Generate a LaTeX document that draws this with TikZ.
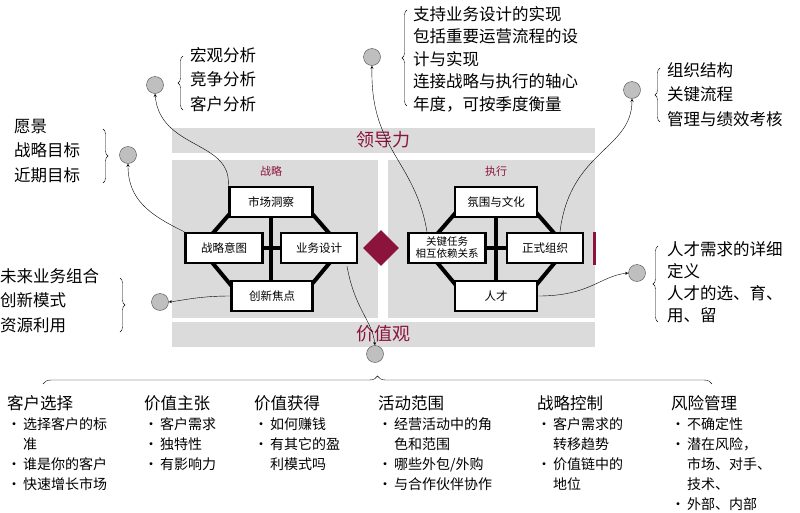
\documentclass[tikz,border=0pt]{standalone}
\usepackage{fontspec}
\setmainfont{Noto Sans CJK SC}
\usetikzlibrary{decorations.pathreplacing,shapes.geometric}
\definecolor{wine}{RGB}{140,20,60}
\definecolor{panel}{gray}{0.86}
\newcommand{\bul}{\makebox[16pt][l]{•}}
\newcommand{\ind}{\hspace*{16pt}}
\newcommand{\hd}[1]{{\fontsize{16.5}{20}\selectfont #1}}
\begin{document}
\begin{tikzpicture}[x=1pt,y=-1pt,
  box/.style={draw=black,line width=2.5pt,fill=white,minimum height=30pt,inner sep=2pt,font=\fontsize{11.5}{13}\selectfont,align=center},
  bubble/.style={circle,draw=black!70,fill=black!25,minimum size=17pt,inner sep=0pt},
  link/.style={->,>=stealth,thin},
  brc/.style={decorate,decoration={brace,amplitude=5pt}},
  big/.style={font=\fontsize{16.5}{24.5}\selectfont,align=left,anchor=north west,inner sep=0pt},
  col/.style={font=\fontsize{14}{20}\selectfont,align=left,anchor=north west,inner sep=0pt}]
\useasboundingbox (0,0) rectangle (800,512);
% panels
\fill[panel] (172,128) rectangle (595,153);
\fill[panel] (172,160) rectangle (378,318);
\fill[panel] (388,160) rectangle (595,318);
\fill[panel] (172,322) rectangle (595,347);
\fill[wine] (593,232) rectangle (596,265);
\node[text=wine,font=\fontsize{18}{20}\selectfont] (lead) at (383,140) {领导力};
\node[text=wine,font=\fontsize{18}{20}\selectfont] (vals) at (383,334) {价值观};
\node[text=wine,font=\fontsize{11}{12}\selectfont] (strat) at (271,171) {战略};
\node[text=wine,font=\fontsize{11}{12}\selectfont] (exec) at (496,171) {执行};
\node[diamond,fill=wine,minimum size=36pt,inner sep=0pt] (mid) at (381,248) {};
% strategy frame
\draw[line width=4pt] (271,202) -- (271,296) (224,248) -- (319,248);
\draw[line width=4pt] (240,202) -- (200,248) -- (240,296) (302,202) -- (342,248) -- (302,296);
\node[box,minimum width=83pt] (mkt) at (271,202) {市场洞察};
\node[box,minimum width=77pt] (intent) at (224,248) {战略意图};
\node[box,minimum width=76pt] (biz) at (319,248) {业务设计};
\node[box,minimum width=81pt] (innov) at (272,296) {创新焦点};
% execution frame
\draw[line width=4pt] (496,202) -- (496,296) (447,248) -- (545,248);
\draw[line width=4pt] (465,202) -- (425,248) -- (465,296) (527,202) -- (567,248) -- (527,296);
\node[box,minimum width=82pt] (cult) at (496,202) {氛围与文化};
\node[box,minimum width=77pt,font=\fontsize{10.5}{12}\selectfont] (task) at (447,248) {关键任务\\相互依赖关系};
\node[box,minimum width=76pt] (org) at (545,248) {正式组织};
\node[box,minimum width=82pt] (talent) at (496,296) {人才};
% bubbles
\node[bubble] (b1) at (155,85) {};
\node[bubble] (b2) at (128,155) {};
\node[bubble] (b3) at (160,302) {};
\node[bubble] (b4) at (372,57) {};
\node[bubble] (b5) at (632,90) {};
\node[bubble] (b6) at (637,273) {};
\node[bubble] (b7) at (375,354) {};
% links
\draw[link] (mkt.north west) .. controls (232,140) and (160,150) .. (b1.south);
\draw[link] (intent.north west) .. controls (150,215) and (128,200) .. (b2.south);
\draw[link] (innov.west) .. controls (200,296) and (185,300) .. (b3.east);
\draw[link] (biz.south) ++(28,2) .. controls (355,310) and (372,320) .. (b7.north);
\draw[link] (task.north) ++(-20,0) .. controls (415,160) and (370,150) .. (b4.south);
\draw[link] (org.north) ++(15,0) .. controls (570,150) and (632,150) .. (b5.south);
\draw[link] (talent.east) .. controls (590,296) and (600,276) .. (b6.west);
% texts
\node[big] (t1) at (190,47) {宏观分析\\竞争分析\\客户分析};
\draw[brc] (183,110) -- (183,56);
\node[big,font=\fontsize{16.5}{22.5}\selectfont] (t4) at (413,6) {支持业务设计的实现\\包括重要运营流程的设\\计与实现\\连接战略与执行的轴心\\年度，可按季度衡量};
\node[big] (t5) at (667,62) {组织结构\\关键流程\\管理与绩效考核};
\draw[brc] (660,122) -- (660,68);
\node[big] (t2) at (14,119) {愿景\\战略目标\\近期目标};
\draw[brc] (103,129) -- (103,183);
\node[big] (t3) at (0,268) {未来业务组合\\创新模式\\资源利用};
\draw[brc] (120,278) -- (120,332);
\node[big,font=\fontsize{16.5}{22}\selectfont] (t6) at (667,241) {人才需求的详细\\定义\\人才的选、育、\\用、留};
\draw[brc] (658,322) -- (658,246);
\draw[brc] (407,106) -- (407,10);
\draw[brc,decoration={amplitude=8pt}] (43,384) -- (712,384);
% columns
\node[col] (c1) at (7,395) {\hd{客户选择}\\\bul 选择客户的标\\\ind 准\\\bul 谁是你的客户\\\bul 快速增长市场};
\node[col] (c2) at (144,395) {\hd{价值主张}\\\bul 客户需求\\\bul 独特性\\\bul 有影响力};
\node[col] (c3) at (254,395) {\hd{价值获得}\\\bul 如何赚钱\\\bul 有其它的盈\\\ind 利模式吗};
\node[col] (c4) at (378,395) {\hd{活动范围}\\\bul 经营活动中的角\\\ind 色和范围\\\bul 哪些外包/外购\\\bul 与合作伙伴协作};
\node[col] (c5) at (537,395) {\hd{战略控制}\\\bul 客户需求的\\\ind 转移趋势\\\bul 价值链中的\\\ind 地位};
\node[col] (c6) at (671,395) {\hd{风险管理}\\\bul 不确定性\\\bul 潜在风险，\\\ind 市场、对手、\\\ind 技术、\\\bul 外部、内部};
\end{tikzpicture}
\end{document}
